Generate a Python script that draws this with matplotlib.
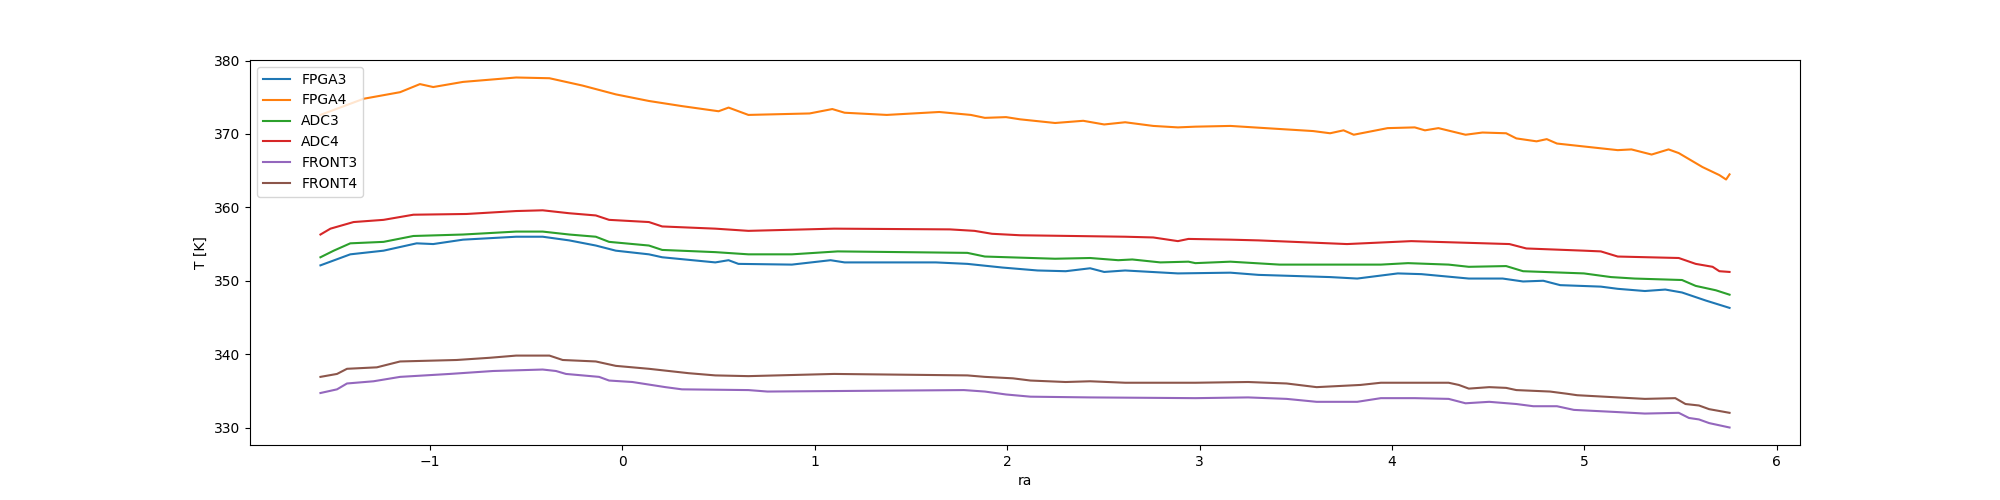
# -*- coding: utf-8 -*-

"""
Board temperatures as a function of ra
"""
import matplotlib
matplotlib.use('Agg')
import matplotlib.pyplot as plt

###############################################################################
# data:

fpga4_ra = [-1.569, -1.345, -1.155, -1.052, -0.983, -0.828, -0.552, -0.379, -0.207, -0.034,
            0.138, 0.310, 0.500, 0.552, 0.655, 0.973, 1.091, 1.155, 1.374, 1.647,
            1.811, 1.884, 1.994, 2.067, 2.249, 2.395, 2.504, 2.613, 2.759, 2.887,
            2.978, 3.160, 3.343, 3.590, 3.678, 3.748, 3.801, 3.977, 4.118, 4.171,
            4.241, 4.382, 4.470, 4.593, 4.646, 4.751, 4.804, 4.857, 4.997, 5.173,
            5.244, 5.349, 5.437, 5.490, 5.613, 5.701, 5.736, 5.754]
fpga4_t = [372.6, 374.8, 375.7, 376.8, 376.4, 377.1, 377.7, 377.6, 376.6, 375.4,
           374.5, 373.8, 373.1, 373.6, 372.6, 372.8, 373.4, 372.9, 372.6, 373.0,
           372.6, 372.2, 372.3, 372.0, 371.5, 371.8, 371.3, 371.6, 371.1, 370.9,
           371.0, 371.1, 370.8, 370.4, 370.1, 370.5, 369.9, 370.8, 370.9, 370.5,
           370.8, 369.9, 370.2, 370.1, 369.4, 369.0, 369.3, 368.7, 368.3, 367.8,
           367.9, 367.2, 367.9, 367.4, 365.5, 364.4, 363.8, 364.5]

adc4_ra = [-1.569, -1.517, -1.397, -1.241, -1.086, -0.810, -0.552, -0.414, -0.276, -0.138,
           -0.069, 0.138, 0.207, 0.483, 0.655, 1.100, 1.702, 1.830, 1.921, 2.067,
           2.340, 2.613, 2.759, 2.887, 2.942, 3.160, 3.306, 3.766, 4.100, 4.610,
           4.698, 4.997, 5.085, 5.173, 5.490, 5.578, 5.666, 5.701, 5.754]
adc4_t = [356.3, 357.1, 358.0, 358.3, 359.0, 359.1, 359.5, 359.6, 359.2, 358.9,
          358.3, 358.0, 357.4, 357.1, 356.8, 357.1, 357.0, 356.8, 356.4, 356.2,
          356.1, 356.0, 355.9, 355.4, 355.7, 355.6, 355.5, 355.0, 355.4, 355.0,
          354.4, 354.1, 354.0, 353.3, 353.1, 352.3, 351.9, 351.3, 351.2]

adc3_ra = [-1.569, -1.500, -1.414, -1.241, -1.086, -0.828, -0.552, -0.414, -0.276, -0.138,
           -0.069, 0.138, 0.207, 0.483, 0.655, 0.881, 1.119, 1.793, 1.884, 2.249,
           2.431, 2.577, 2.650, 2.796, 2.942, 2.978, 3.160, 3.416, 3.942, 4.083,
           4.294, 4.399, 4.593, 4.681, 4.997, 5.138, 5.261, 5.507, 5.578, 5.683,
           5.754]
adc3_t = [353.2, 354.1, 355.1, 355.3, 356.1, 356.3, 356.7, 356.7, 356.3, 356.0,
          355.3, 354.8, 354.2, 353.9, 353.6, 353.6, 354.0, 353.8, 353.3, 353.0,
          353.1, 352.8, 352.9, 352.5, 352.6, 352.4, 352.6, 352.2, 352.2, 352.4,
          352.2, 351.9, 352.0, 351.3, 351.0, 350.5, 350.3, 350.1, 349.3, 348.7,
          348.1]

fpga3_ra = [-1.569, -1.414, -1.241, -1.069, -0.983, -0.828, -0.552, -0.414, -0.276, -0.138,
            -0.034, 0.138, 0.207, 0.483, 0.552, 0.603, 0.881, 1.082, 1.155, 1.629,
            1.793, 1.975, 2.158, 2.304, 2.431, 2.504, 2.613, 2.887, 3.160, 3.306,
            3.678, 3.819, 4.030, 4.153, 4.399, 4.575, 4.681, 4.786, 4.874, 5.085,
            5.173, 5.314, 5.420, 5.507, 5.631, 5.754]
fpga3_t = [352.1, 353.6, 354.1, 355.1, 355.0, 355.6, 356.0, 356.0, 355.5, 354.8,
           354.1, 353.6, 353.2, 352.5, 352.8, 352.3, 352.2, 352.8, 352.5, 352.5,
           352.3, 351.8, 351.4, 351.3, 351.7, 351.2, 351.4, 351.0, 351.1, 350.8,
           350.5, 350.3, 351.0, 350.9, 350.3, 350.3, 349.9, 350.0, 349.4, 349.2,
           348.9, 348.6, 348.8, 348.4, 347.3, 346.3]

front3_ra = [-1.569, -1.483, -1.431, -1.293, -1.155, -0.897, -0.672, -0.414, -0.345, -0.293,
             -0.121, -0.069, 0.052, 0.224, 0.310, 0.655, 0.754, 1.775, 1.884, 1.994,
             2.121, 2.431, 2.978, 3.252, 3.452, 3.608, 3.819, 3.942, 4.118, 4.294,
             4.382, 4.505, 4.646, 4.734, 4.857, 4.945, 5.173, 5.314, 5.490, 5.543,
             5.595, 5.648, 5.754]
front3_t = [334.7, 335.2, 336.0, 336.3, 336.9, 337.3, 337.7, 337.9, 337.7, 337.3,
            336.9, 336.4, 336.2, 335.5, 335.2, 335.1, 334.9, 335.1, 334.9, 334.5,
            334.2, 334.1, 334.0, 334.1, 333.9, 333.5, 333.5, 334.0, 334.0, 333.9,
            333.3, 333.5, 333.2, 332.9, 332.9, 332.4, 332.1, 331.9, 332.0, 331.3,
            331.1, 330.6, 330.0]

front4_ra = [-1.569, -1.483, -1.431, -1.276, -1.155, -0.862, -0.690, -0.552, -0.379, -0.310,
             -0.138, -0.034, 0.138, 0.345, 0.483, 0.655, 1.100, 1.793, 1.884, 2.030,
             2.121, 2.304, 2.431, 2.613, 2.978, 3.252, 3.452, 3.608, 3.836, 3.942,
             4.294, 4.347, 4.399, 4.505, 4.593, 4.646, 4.821, 4.909, 4.962, 5.173,
             5.314, 5.472, 5.525, 5.595, 5.648, 5.754]
front4_t = [336.9, 337.3, 338.0, 338.2, 339.0, 339.2, 339.5, 339.8, 339.8, 339.2,
            339.0, 338.4, 338.0, 337.4, 337.1, 337.0, 337.3, 337.1, 336.9, 336.7,
            336.4, 336.2, 336.3, 336.1, 336.1, 336.2, 336.0, 335.5, 335.8, 336.1,
            336.1, 335.8, 335.3, 335.5, 335.4, 335.1, 334.9, 334.6, 334.4, 334.1,
            333.9, 334.0, 333.2, 333.0, 332.5, 332.0]

###############################################################################
# do the plot:

fig = plt.figure(figsize=(20, 5), dpi=100)
ax1 = fig.add_subplot(111)

ax1.plot(fpga3_ra, fpga3_t, label='FPGA3')
ax1.plot(fpga4_ra, fpga4_t, label='FPGA4')
ax1.plot(adc3_ra, adc3_t, label='ADC3')
ax1.plot(adc4_ra, adc4_t, label='ADC4')
ax1.plot(front3_ra, front3_t, label='FRONT3')
ax1.plot(front4_ra, front4_t, label='FRONT4')

ax1.set_xlabel('ra')
ax1.set_ylabel('T [K]')
ax1.legend(loc='upper left')

plt.savefig('out.png', dpi=100)
